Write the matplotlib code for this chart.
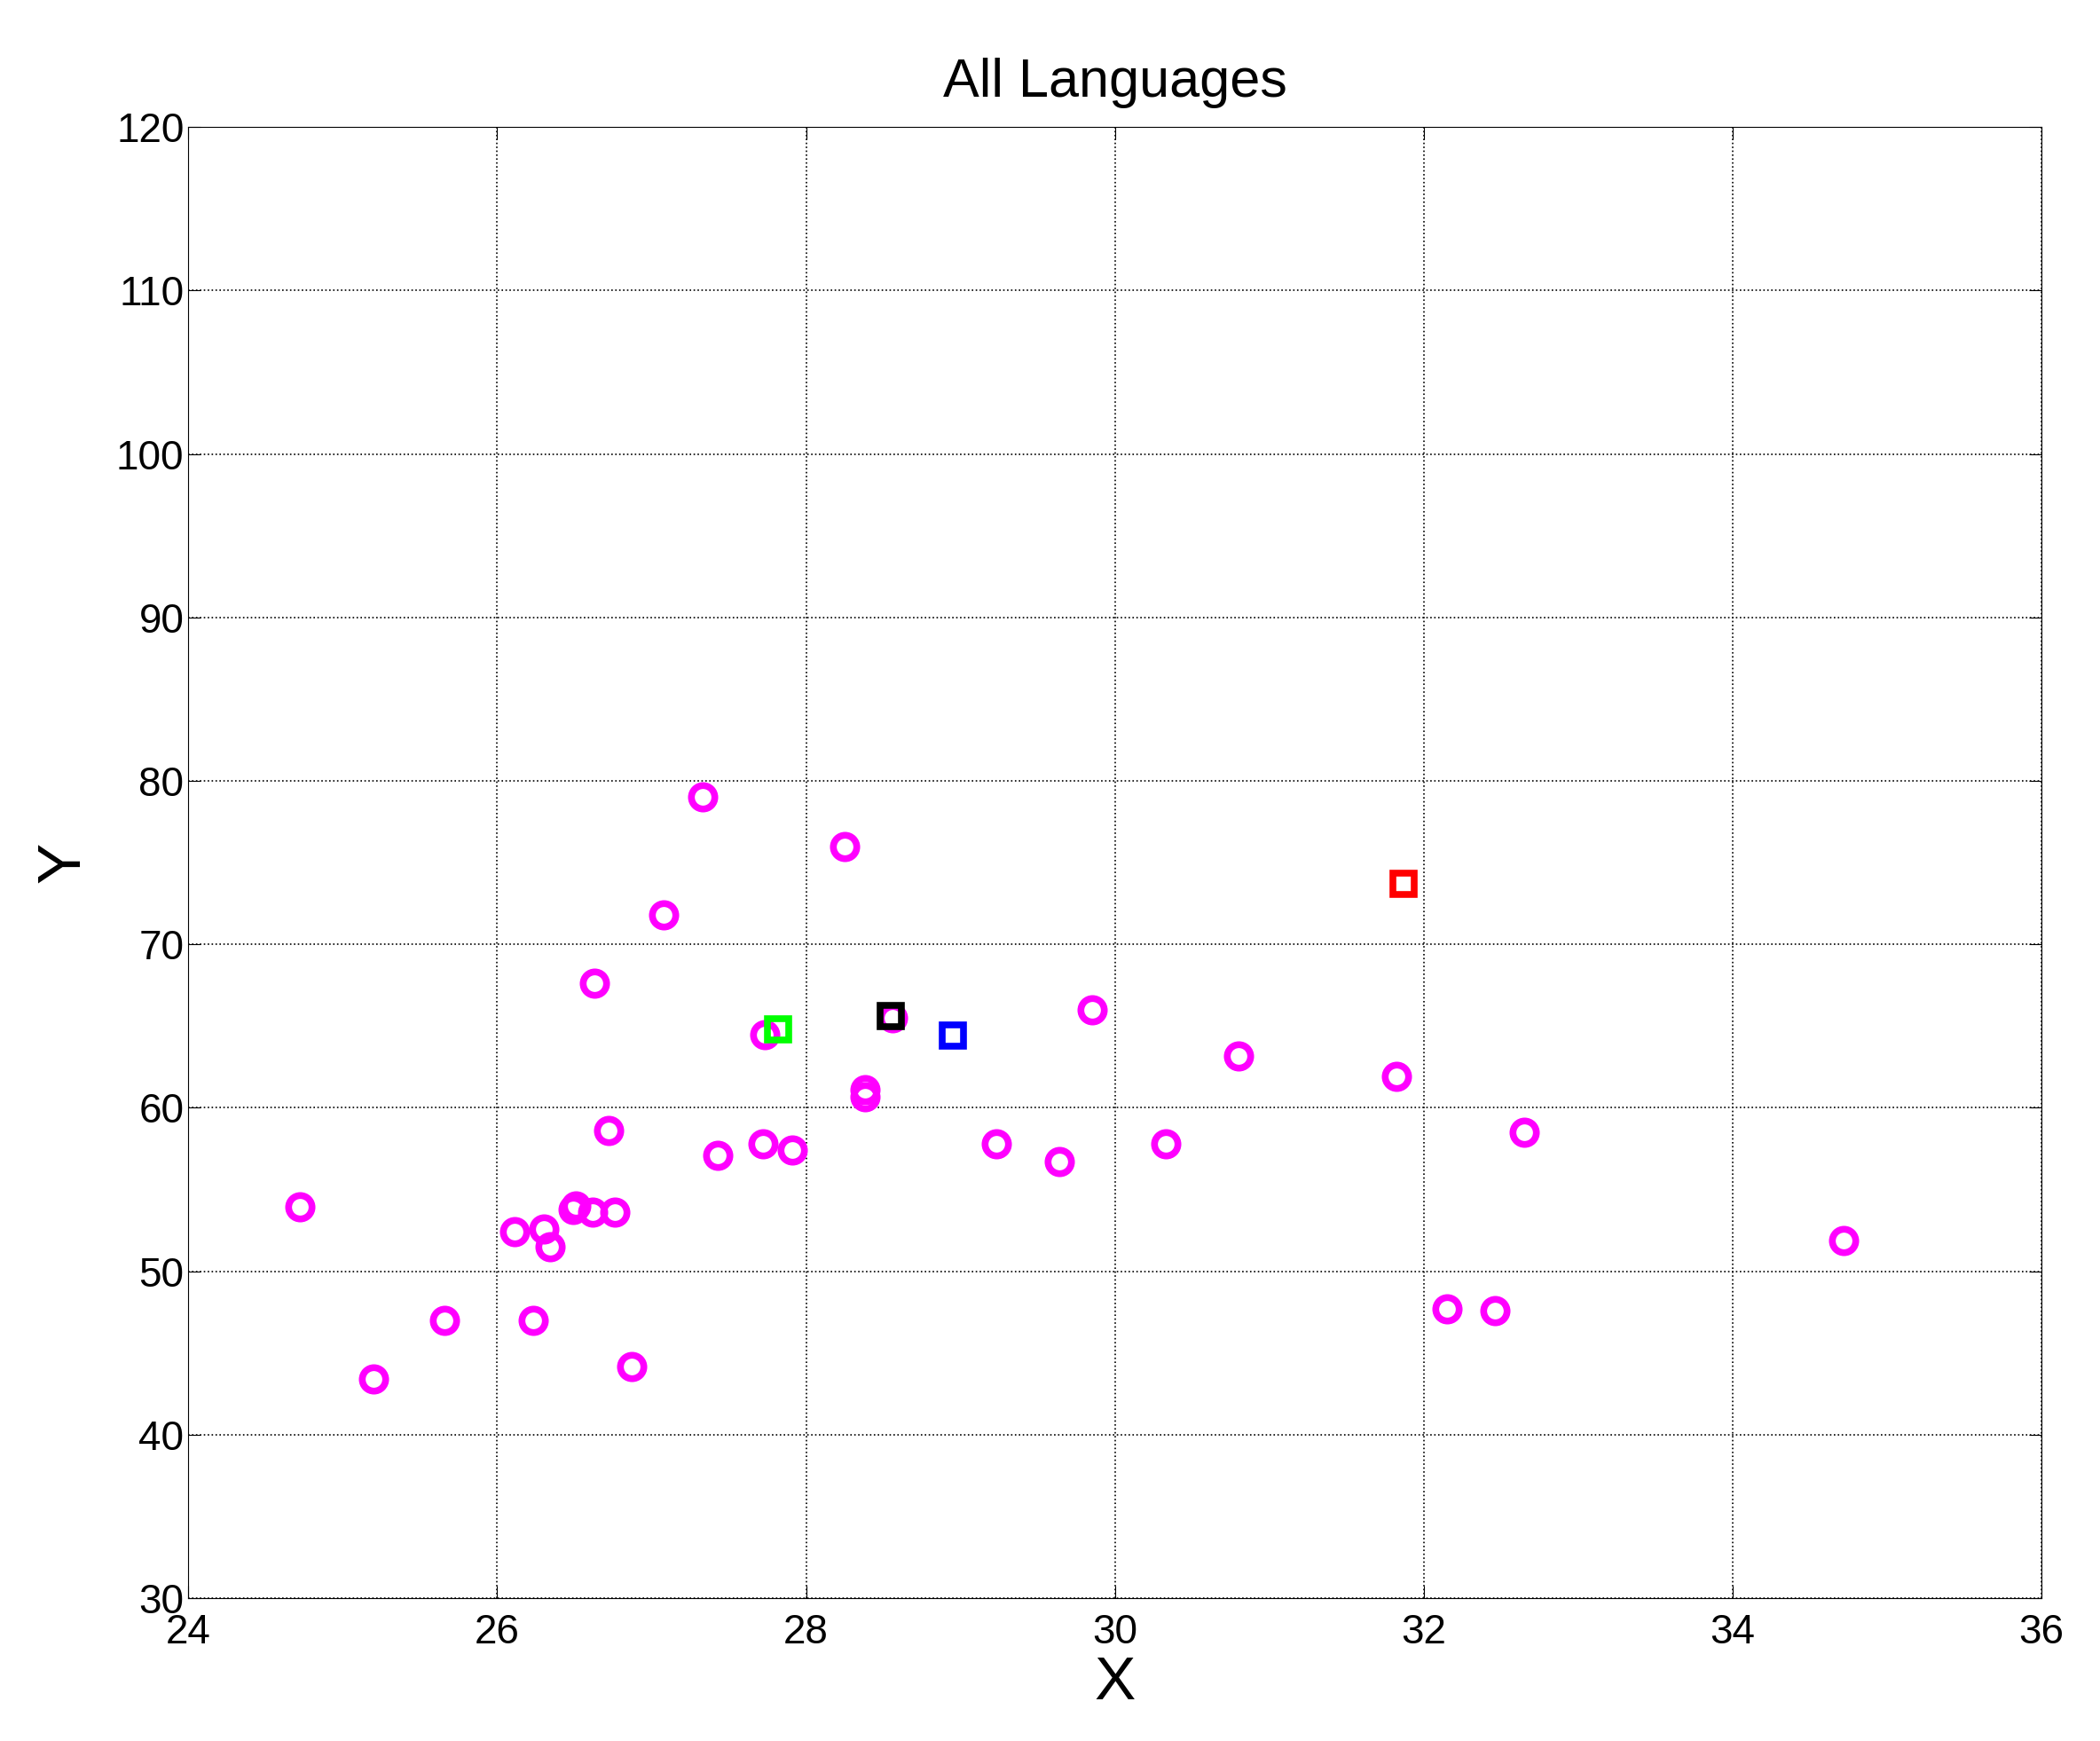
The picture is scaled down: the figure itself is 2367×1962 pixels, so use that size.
import matplotlib
matplotlib.use("Agg")
import matplotlib.pyplot as plt
plt.rcParams['font.family'] = ['Liberation Sans', 'DejaVu Sans']

cx = [24.72,25.20,25.66,26.11,26.30,26.34,26.23,26.49,26.51,26.62,26.76,26.72,26.63,26.87,27.08,27.33,27.43,27.72,27.91,27.73,28.25,28.38,28.38,28.56,29.23,29.64,29.85,30.33,30.80,31.82,32.15,32.46,32.65,34.72]
cy = [53.97,43.4,47.0,52.4,52.6,51.5,47.0,53.8,54.0,53.6,53.6,58.6,67.6,44.2,71.8,79.0,57.1,57.8,57.4,64.5,76.0,61.1,60.7,65.5,57.8,56.7,66.0,57.8,63.2,61.9,47.7,47.6,58.5,51.9]
sq_x = [27.82, 28.55, 28.95, 31.87]
sq_y = [64.8, 65.6, 64.4, 73.7]
sq_c = ['#00ff00', 'black', 'blue', 'red']

fig = plt.figure(figsize=(23.67, 19.62), dpi=100)
ax = fig.add_axes([0.0897, 0.082, 0.8825, 0.845])
ax.plot(cx, cy, 'o', ms=19, mfc='none', mec='magenta', mew=5.5, ls='none')
for x, y, c in zip(sq_x, sq_y, sq_c):
    ax.plot([x], [y], 's', ms=17, mfc='none', mec=c, mew=5.5)
ax.set_xlim(24, 36)
ax.set_ylim(30, 120)
ax.set_xticks(range(24, 37, 2))
ax.set_yticks(range(30, 121, 10))
ax.grid(True, ls=':', color='black', lw=1.2)
ax.tick_params(labelsize=33, direction='in', length=10, top=True, right=True)
ax.tick_params(axis='x', pad=12)
ax.set_title('All Languages', fontsize=44, pad=25)
ax.set_xlabel('X', fontsize=50, labelpad=2)
ax.set_ylabel('Y', fontsize=50, labelpad=20)
fig.savefig('out.png', dpi=100)
